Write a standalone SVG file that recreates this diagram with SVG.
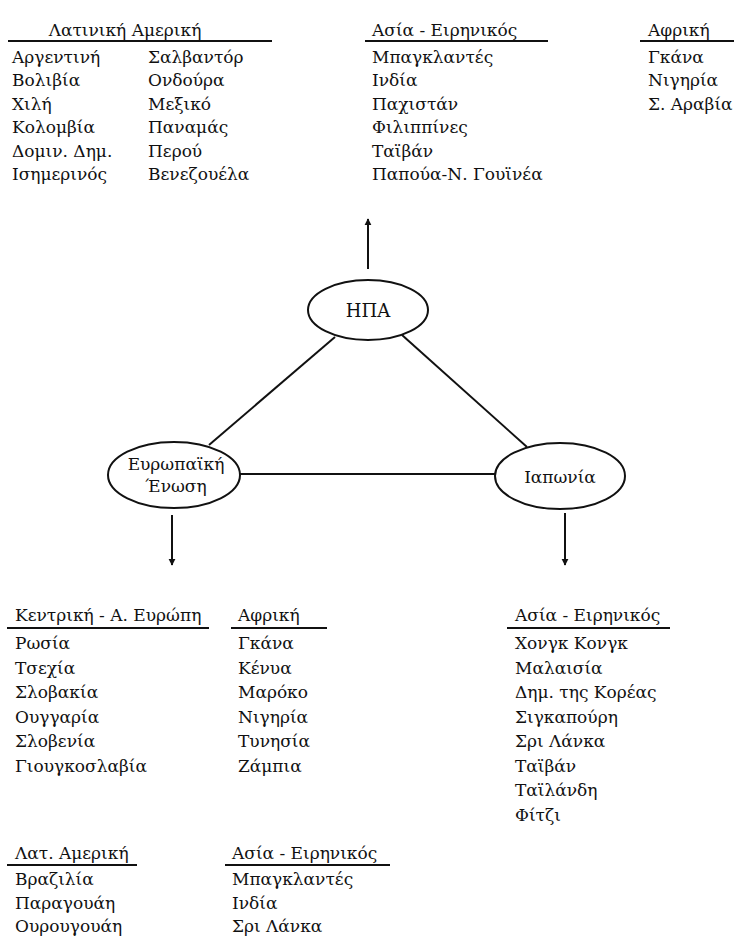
<svg xmlns="http://www.w3.org/2000/svg" width="734" height="938" viewBox="0 0 734 938">
<defs>
<style>
text{font-family:"DejaVu Serif","Liberation Serif",serif;font-size:17px;fill:#111}
.c{text-anchor:middle}
.n{font-size:18px}
.u{stroke:#111;stroke-width:2}
.e{fill:#fff;stroke:#111;stroke-width:2}
.ln{stroke:#111;stroke-width:2;fill:none}
</style>
<marker id="ah" viewBox="0 0 10 10" refX="9" refY="5" markerWidth="7" markerHeight="8" markerUnits="userSpaceOnUse" orient="auto">
<path d="M0,0 L10,5 L0,10 z" fill="#111"/>
</marker>
</defs>

<g id="connectors">
<line class="ln" x1="335" y1="337" x2="209" y2="445"/>
<line class="ln" x1="402" y1="335" x2="527" y2="447"/>
<line class="ln" x1="240" y1="474" x2="495" y2="474"/>
<line class="ln" x1="368" y1="269" x2="368" y2="219" marker-end="url(#ah)"/>
<line class="ln" x1="172" y1="515" x2="172" y2="565" marker-end="url(#ah)"/>
<line class="ln" x1="565" y1="513" x2="565" y2="565" marker-end="url(#ah)"/>
</g>

<g id="node-usa">
<ellipse class="e" cx="368" cy="310" rx="60" ry="30"/>
<text class="c n" x="368" y="317">ΗΠΑ</text>
</g>
<g id="node-eu">
<ellipse class="e" cx="174" cy="475" rx="66" ry="33"/>
<text class="c" x="176" y="470">Ευρωπαϊκή</text>
<text class="c" x="176" y="492">Ένωση</text>
</g>
<g id="node-japan">
<ellipse class="e" cx="560" cy="476" rx="65" ry="33"/>
<text class="c" x="560" y="483">Ιαπωνία</text>
</g>

<g id="list-usa-latam">
<text class="c" x="125" y="36">Λατινική Αμερική</text>
<line class="u" x1="8" y1="41" x2="272" y2="41"/>
<text x="12" y="63">Αργεντινή</text>
<text x="12" y="86">Βολιβία</text>
<text x="12" y="110">Χιλή</text>
<text x="12" y="133">Κολομβία</text>
<text x="12" y="157">Δομιν. Δημ.</text>
<text x="12" y="180">Ισημερινός</text>
<text x="148" y="63">Σαλβαντόρ</text>
<text x="148" y="86">Ονδούρα</text>
<text x="148" y="110">Μεξικό</text>
<text x="148" y="133">Παναμάς</text>
<text x="148" y="157">Περού</text>
<text x="148" y="180">Βενεζουέλα</text>
</g>

<g id="list-usa-asia">
<text x="372" y="36">Ασία - Ειρηνικός</text>
<line class="u" x1="365" y1="41" x2="548" y2="41"/>
<text x="372" y="63">Μπαγκλαντές</text>
<text x="372" y="86">Ινδία</text>
<text x="372" y="110">Παχιστάν</text>
<text x="372" y="133">Φιλιππίνες</text>
<text x="372" y="157">Ταϊβάν</text>
<text x="372" y="180">Παπούα-Ν. Γουϊνέα</text>
</g>

<g id="list-usa-africa">
<text x="648" y="36">Αφρική</text>
<line class="u" x1="640" y1="41" x2="734" y2="41"/>
<text x="648" y="63">Γκάνα</text>
<text x="648" y="86">Νιγηρία</text>
<text x="648" y="110">Σ. Αραβία</text>
</g>

<g id="list-eu-europe">
<text x="15" y="621">Κεντρική - Α. Ευρώπη</text>
<line class="u" x1="7" y1="628" x2="209" y2="628"/>
<text x="15" y="649">Ρωσία</text>
<text x="15" y="674">Τσεχία</text>
<text x="15" y="698">Σλοβακία</text>
<text x="15" y="723">Ουγγαρία</text>
<text x="15" y="747">Σλοβενία</text>
<text x="15" y="772">Γιουγκοσλαβία</text>
</g>

<g id="list-eu-africa">
<text x="238" y="621">Αφρική</text>
<line class="u" x1="231" y1="628" x2="327" y2="628"/>
<text x="238" y="649">Γκάνα</text>
<text x="238" y="674">Κένυα</text>
<text x="238" y="698">Μαρόκο</text>
<text x="238" y="723">Νιγηρία</text>
<text x="238" y="747">Τυνησία</text>
<text x="238" y="772">Ζάμπια</text>
</g>

<g id="list-japan-asia">
<text x="515" y="621">Ασία - Ειρηνικός</text>
<line class="u" x1="507" y1="628" x2="670" y2="628"/>
<text x="515" y="649">Χονγκ Κονγκ</text>
<text x="515" y="674">Μαλαισία</text>
<text x="515" y="698">Δημ. της Κορέας</text>
<text x="515" y="723">Σιγκαπούρη</text>
<text x="515" y="747">Σρι Λάνκα</text>
<text x="515" y="772">Ταϊβάν</text>
<text x="515" y="796">Ταϊλάνδη</text>
<text x="515" y="821">Φίτζι</text>
</g>

<g id="list-eu-latam">
<text x="15" y="859">Λατ. Αμερική</text>
<line class="u" x1="7" y1="865" x2="137" y2="865"/>
<text x="15" y="885">Βραζιλία</text>
<text x="15" y="909">Παραγουάη</text>
<text x="15" y="932">Ουρουγουάη</text>
</g>

<g id="list-eu-asia">
<text x="232" y="859">Ασία - Ειρηνικός</text>
<line class="u" x1="225" y1="865" x2="390" y2="865"/>
<text x="232" y="885">Μπαγκλαντές</text>
<text x="232" y="909">Ινδία</text>
<text x="232" y="932">Σρι Λάνκα</text>
</g>
</svg>
